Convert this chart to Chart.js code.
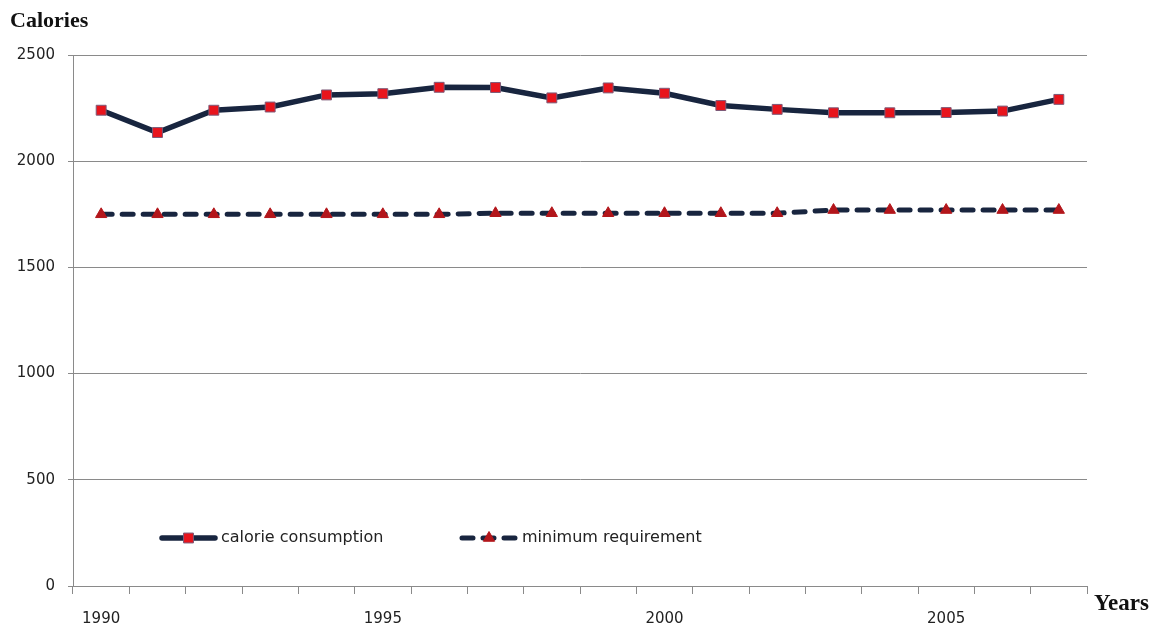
<!DOCTYPE html>
<html>
<head>
<meta charset="utf-8">
<script src="https://cdn.jsdelivr.net/npm/chart.js@4.4.1/dist/chart.umd.min.js"></script>
<style>
  body { margin: 0; background: #fff; }
  #wrap { width: 1156px; height: 631px; }
</style>
</head>
<body>
<div id="wrap"><canvas id="myChart" width="1156" height="631"></canvas></div>
<script>
// Chart data
const years = ['1990', '1991', '1992', '1993', '1994', '1995', '1996', '1997', '1998',
               '1999', '2000', '2001', '2002', '2003', '2004', '2005', '2006', '2007'];
const shownYears = ['1990', '1995', '2000', '2005'];
const calorieConsumption = [2240, 2135, 2240, 2255, 2312, 2318, 2348, 2347, 2298,
                            2345, 2320, 2262, 2244, 2228, 2228, 2229, 2236, 2291];
const minimumRequirement = [1750, 1750, 1750, 1750, 1750, 1750, 1750, 1755, 1755,
                            1755, 1755, 1755, 1755, 1770, 1770, 1770, 1770, 1770];
const yTicks = { min: 0, max: 2500, step: 500 };

const NAVY = '#18253f';
const GRID = '#8a8a8a';
const TICK_FONT = { family: 'DejaVu Sans', size: 15 };

// axis titles + Excel-style legend inside the plot
const decorations = {
    id: 'decorations',
    afterDraw(chart) {
        const c = chart.ctx;
        c.save();
        c.fillStyle = '#111';
        c.textBaseline = 'alphabetic';
        c.font = 'bold 22px "Liberation Serif", "Times New Roman", serif';
        c.textAlign = 'left';
        c.fillText('Calories', 10, 27);
        c.font = 'bold 23px "Liberation Serif", "Times New Roman", serif';
        c.fillText('Years', 1094, 610);

        const items = [
            { ds: chart.data.datasets[0], x0: 162, x1: 215, text: 'calorie consumption' },
            { ds: chart.data.datasets[1], x0: 462, x1: 516, text: 'minimum requirement' }
        ];
        const y = 538;
        items.forEach(it => {
            c.save();
            c.strokeStyle = it.ds.borderColor;
            c.lineWidth = it.ds.borderWidth;
            c.lineCap = 'round';
            c.setLineDash(it.ds.borderDash || []);
            c.beginPath();
            c.moveTo(it.x0, y);
            c.lineTo(it.x1, y);
            c.stroke();
            c.restore();
            const mx = (it.x0 + it.x1) / 2;
            c.fillStyle = it.ds.pointBackgroundColor;
            c.strokeStyle = it.ds.pointBorderColor;
            c.lineWidth = 1;
            Chart.helpers.drawPoint(c, {
                pointStyle: it.ds.pointStyle,
                radius: it.ds.pointRadius,
                borderWidth: 1,
                rotation: 0
            }, mx, y);
            c.fillStyle = '#222';
            c.font = '16px "DejaVu Sans", sans-serif';
            c.textBaseline = 'middle';
            c.fillText(it.text, it.x1 + 6, y);
        });
        c.restore();
    }
};

const ctx = document.getElementById('myChart').getContext('2d');
const myChart = new Chart(ctx, {
    type: 'line',
    data: {
        labels: years,
        datasets: [
            {
                label: 'calorie consumption',
                data: calorieConsumption,
                borderColor: NAVY,
                borderWidth: 5.5,
                tension: 0,
                pointStyle: 'rect',
                pointRadius: 7,
                pointBackgroundColor: '#e8141c',
                pointBorderColor: '#7d5a78',
                pointBorderWidth: 1
            },
            {
                label: 'minimum requirement',
                data: minimumRequirement,
                borderColor: NAVY,
                borderWidth: 5,
                borderDash: [11, 10],
                borderCapStyle: 'round',
                tension: 0,
                pointStyle: 'triangle',
                pointRadius: 6.5,
                pointBackgroundColor: '#b3161b',
                pointBorderColor: '#b3161b',
                pointBorderWidth: 1
            }
        ]
    },
    options: {
        responsive: false,
        animation: false,
        devicePixelRatio: 1,
        layout: { padding: { top: 55, right: 69, left: 0, bottom: 0 } },
        plugins: { legend: { display: false }, tooltip: { enabled: false } },
        scales: {
            x: {
                type: 'category',
                offset: true,
                afterFit: s => { s.height = 45; },
                grid: { offset: true, drawOnChartArea: false, drawTicks: true, tickLength: 8, color: GRID },
                border: { display: true, color: GRID, width: 1 },
                ticks: {
                    autoSkip: false,
                    maxRotation: 0,
                    padding: 16,
                    color: '#222',
                    font: TICK_FONT,
                    callback: function (v) {
                        const lab = this.getLabelForValue(v);
                        return shownYears.includes(lab) ? lab : '';
                    }
                }
            },
            y: {
                min: yTicks.min,
                max: yTicks.max,
                afterFit: s => { s.width = 73; },
                grid: { color: GRID, lineWidth: 1, drawTicks: true, tickLength: 5 },
                border: { display: true, color: GRID, width: 1 },
                ticks: {
                    stepSize: yTicks.step,
                    padding: 13,
                    color: '#222',
                    font: TICK_FONT,
                    callback: v => String(v)
                }
            }
        }
    },
    plugins: [decorations]
});
</script>
</body>
</html>
